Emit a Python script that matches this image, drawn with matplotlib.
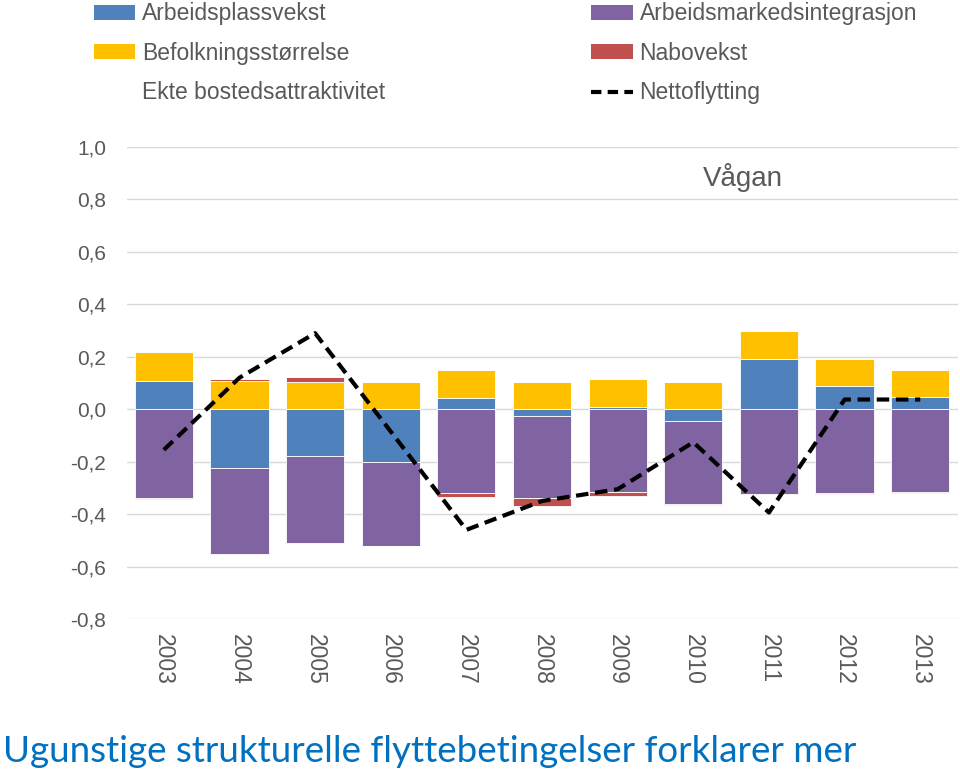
import matplotlib
matplotlib.use("Agg")
import matplotlib.pyplot as plt
from matplotlib.patches import Patch
from matplotlib.lines import Line2D
import numpy as np

plt.rcParams['font.family'] = ['Liberation Sans', 'DejaVu Sans']

years = ['2003', '2004', '2005', '2006', '2007', '2008', '2009', '2010', '2011', '2012', '2013']

arbeidsplassvekst = [0.107, -0.225, -0.180, -0.200, 0.042, -0.027, 0.010, -0.043, 0.190, 0.088, 0.046]
arbeidsmarkedsintegrasjon = [-0.337, -0.328, -0.330, -0.320, -0.318, -0.313, -0.317, -0.320, -0.322, -0.318, -0.315]
befolkningsstorrelse = [0.111, 0.107, 0.103, 0.103, 0.107, 0.103, 0.105, 0.103, 0.107, 0.103, 0.103]
nabovekst = [-0.004, 0.010, 0.019, -0.003, -0.018, -0.030, -0.015, -0.003, 0.003, -0.005, -0.005]
ekte_bosted = [0, 0, 0, 0, 0, 0, 0, 0, 0, 0, 0]
nettoflytting = [-0.155, 0.120, 0.290, -0.085, -0.460, -0.350, -0.305, -0.126, -0.394, 0.037, 0.037]

c_blue = '#4F81BD'
c_purple = '#8064A2'
c_yellow = '#FFC000'
c_red = '#C0504D'
grey_txt = '#595959'

fig = plt.figure(figsize=(9.6, 7.75), dpi=100)
ax = fig.add_axes([0.132, 0.2013, 0.866, 0.609])

x = np.arange(len(years))
pos = np.zeros(len(years))
neg = np.zeros(len(years))
series = [(arbeidsplassvekst, c_blue), (arbeidsmarkedsintegrasjon, c_purple),
          (befolkningsstorrelse, c_yellow), (nabovekst, c_red), (ekte_bosted, 'none')]
for vals, col in series:
    v = np.array(vals, dtype=float)
    bottom = np.where(v >= 0, pos, neg)
    ax.bar(x, v, 0.77, bottom=bottom, color=col, edgecolor='white', linewidth=0.6, zorder=2)
    pos = pos + np.where(v >= 0, v, 0)
    neg = neg + np.where(v < 0, v, 0)

ax.plot(x, nettoflytting, color='black', linestyle=(0, (3, 1.6)), linewidth=3, zorder=3)

ax.set_ylim(-0.8, 1.0)
ax.set_xlim(-0.49, 10.5)
yt = np.round(np.arange(-0.8, 1.01, 0.2), 1)
ax.set_yticks(yt)
ax.set_yticklabels([('%.1f' % (t + 0.0)).replace('.', ',').replace('-0,0', '0,0') for t in yt],
                   fontsize=15, color=grey_txt)
ax.set_xticks(x)
ax.set_xticklabels(years, rotation=-90, fontsize=16.5, color=grey_txt)
ax.tick_params(axis='both', length=0)
ax.tick_params(axis='y', pad=15)
ax.tick_params(axis='x', pad=11)
ax.grid(axis='y', color='#D9D9D9', linewidth=1, zorder=0)
ax.set_axisbelow(True)
for s in ax.spines.values():
    s.set_visible(False)

ax.text(7.66, 0.885, 'Vågan', fontsize=20, color=grey_txt, ha='center', va='center')

h1 = [Patch(facecolor=c_blue), Patch(facecolor=c_yellow), Patch(facecolor='none', edgecolor='none')]
l1 = ['Arbeidsplassvekst', 'Befolkningsstørrelse', 'Ekte bostedsattraktivitet']
h2 = [Patch(facecolor=c_purple), Patch(facecolor=c_red),
      Line2D([0], [0], color='black', linestyle=(0, (2.5, 1.5)), linewidth=3)]
l2 = ['Arbeidsmarkedsintegrasjon', 'Nabovekst', 'Nettoflytting']
for h, l, xa in [(h1, l1, 0.098), (h2, l2, 0.616)]:
    leg = fig.legend(h, l, loc='upper left', bbox_to_anchor=(xa, 0.997), frameon=False,
                     fontsize=16.5, labelcolor=grey_txt, handlelength=1.8, handleheight=0.6,
                     handletextpad=0.3, labelspacing=0.72, borderaxespad=0, borderpad=0)

fig.text(0.003, 0.017, 'Ugunstige strukturelle flyttebetingelser forklarer mer',
         fontsize=26.5, color='#0070C0', family=['Lato', 'DejaVu Sans'], ha='left', va='baseline')

fig.savefig('out.png', dpi=100)
